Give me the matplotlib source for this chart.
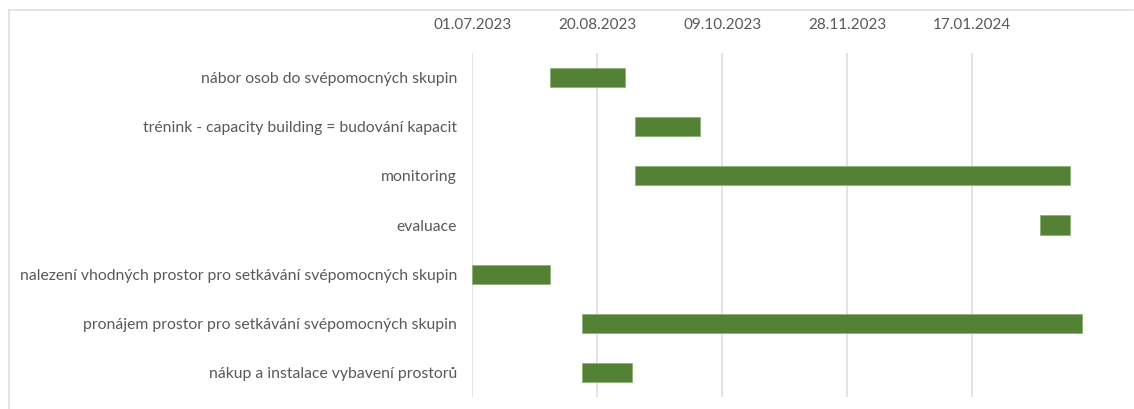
import matplotlib
matplotlib.use("Agg")
import matplotlib.pyplot as plt
import matplotlib.dates as mdates
from matplotlib.lines import Line2D
import datetime as dt

tasks = [
    "nábor osob do svépomocných skupin",
    "trénink - capacity building = budování kapacit",
    "monitoring",
    "evaluace",
    "nalezení vhodných prostor pro setkávání svépomocných skupin",
    "pronájem prostor pro setkávání svépomocných skupin",
    "nákup a instalace vybavení prostorů",
]
starts = ["2023-08-01", "2023-09-04", "2023-09-04", "2024-02-13",
          "2023-07-01", "2023-08-14", "2023-08-14"]
ends = ["2023-08-31", "2023-09-30", "2024-02-25", "2024-02-25",
        "2023-08-01", "2024-03-01", "2023-09-03"]
tick_dates = ["2023-07-01", "2023-08-20", "2023-10-09", "2023-11-28", "2024-01-17"]
axis_range = ["2023-07-01", "2024-03-07"]

def d(s):
    return mdates.date2num(dt.datetime.strptime(s, "%Y-%m-%d"))

plt.rcParams['font.family'] = ['Lato', 'DejaVu Sans']
text_color = "#595959"
grid_color = "#dedede"
bar_color = "#548235"

fig = plt.figure(figsize=(11.34, 4.09), dpi=100)
ax = fig.add_axes([472.3/1134, 1-397/409, 625/1134, (397-53)/409])

left = [d(s) for s in starts]
width = [d(e) - d(s) for s, e in zip(starts, ends)]
ypos = list(range(len(tasks)))
ax.barh(ypos, width, left=left, height=0.39, color=bar_color,
        edgecolor="#8fb07a", linewidth=0.6, zorder=3)

ax.set_xlim(d(axis_range[0]), d(axis_range[1]))
ax.set_ylim(len(tasks)-0.5, -0.5)
ax.set_yticks(ypos)
ax.set_yticklabels(tasks)
tv = [d(t) for t in tick_dates]
ax.set_xticks(tv)
ax.set_xticklabels([dt.datetime.strptime(t, "%Y-%m-%d").strftime("%d.%m.%Y") for t in tick_dates])
ax.xaxis.tick_top()
ax.tick_params(axis='x', length=0, pad=15, labelsize=11, labelcolor=text_color)
ax.tick_params(axis='y', length=0, pad=11, labelsize=11.3, labelcolor=text_color)
ax.grid(axis='x', color=grid_color, linewidth=1.2, zorder=0)
for s in ax.spines.values():
    s.set_visible(False)

# outer chart frame (partially visible)
fig.add_artist(Line2D([8.5/1134, 8.5/1134], [0, 1-9.5/409], transform=fig.transFigure,
                      color=grid_color, linewidth=1.2))
fig.add_artist(Line2D([8.5/1134, 1133/1134], [1-9.5/409, 1-9.5/409], transform=fig.transFigure,
                      color=grid_color, linewidth=1.2))

fig.savefig("out.png", dpi=100)
